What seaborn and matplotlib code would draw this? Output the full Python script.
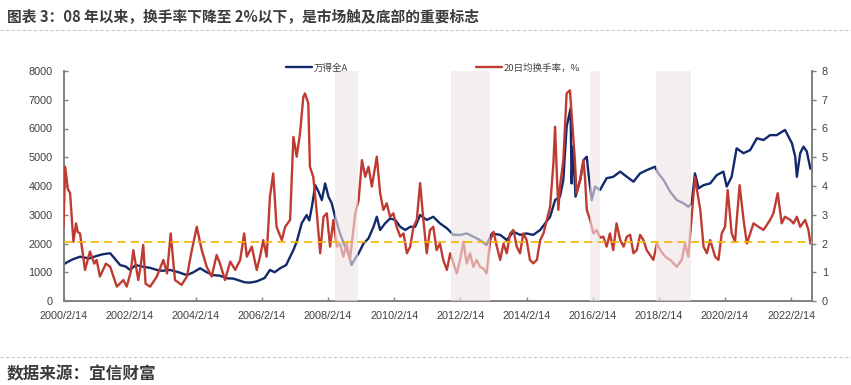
import numpy as np
import pandas as pd
import matplotlib
matplotlib.use("Agg")
import matplotlib.pyplot as plt
from matplotlib.lines import Line2D
import seaborn as sns

# ---------------- data ----------------
title_text = "图表 3：08 年以来，换手率下降至 2%以下，是市场触及底部的重要标志"
source_text = "数据来源：宜信财富"
series_names = ["万得全A", "20日均换手率，%"]

# 万得全A (left axis) — decimal-year dates and index level
wind_t = [2000.12, 2000.17, 2000.4, 2000.62, 2000.9, 2001.1, 2001.32, 2001.53, 2001.65, 2001.83,
          2002.0, 2002.13, 2002.3, 2002.53, 2002.75, 2002.94, 2003.1, 2003.34, 2003.6, 2003.85,
          2004.05, 2004.25, 2004.45, 2004.65, 2004.85, 2005.06, 2005.25, 2005.46, 2005.6, 2005.76,
          2005.95, 2006.06, 2006.2, 2006.36, 2006.5, 2006.67, 2006.85, 2006.97, 2007.08, 2007.17,
          2007.32, 2007.47, 2007.55, 2007.63, 2007.73, 2007.83, 2007.93, 2008.03, 2008.13, 2008.23,
          2008.33, 2008.48, 2008.63, 2008.73, 2008.83, 2008.94, 2009.04, 2009.19, 2009.34, 2009.49,
          2009.59, 2009.69, 2009.84, 2009.99, 2010.15, 2010.3, 2010.45, 2010.6, 2010.75, 2010.9,
          2011.1, 2011.3, 2011.5, 2011.71, 2011.91, 2012.11, 2012.31, 2012.51, 2012.71, 2012.91,
          2013.07, 2013.32, 2013.52, 2013.72, 2013.92, 2014.12, 2014.32, 2014.53, 2014.68, 2014.83,
          2014.98, 2015.13, 2015.23, 2015.33, 2015.45, 2015.48, 2015.52, 2015.6, 2015.74, 2015.84,
          2015.94, 2015.99, 2016.09, 2016.19, 2016.34, 2016.54, 2016.74, 2016.95, 2017.15, 2017.35,
          2017.55, 2017.75, 2018.0, 2018.1, 2018.26, 2018.46, 2018.66, 2018.86, 2019.01, 2019.11,
          2019.21, 2019.32, 2019.47, 2019.67, 2019.87, 2020.07, 2020.17, 2020.32, 2020.47, 2020.68,
          2020.88, 2021.08, 2021.28, 2021.48, 2021.68, 2021.93, 2022.14, 2022.24, 2022.29, 2022.39,
          2022.49, 2022.59, 2022.7]
wind_v = [1250, 1310, 1450, 1540, 1480, 1560, 1630, 1660, 1500, 1250,
          1200, 1080, 1250, 1190, 1150, 1080, 1050, 1080, 1000, 900,
          1000, 1140, 1000, 900, 880, 790, 780, 700, 650, 640,
          680, 730, 800, 1080, 1000, 1140, 1250, 1540, 1800, 2060,
          2700, 2990, 2800, 3280, 4030, 3800, 3510, 4090, 3630, 3400,
          2930, 2350, 1890, 1660, 1250, 1480, 1660, 2000, 2180, 2580,
          2930, 2470, 2700, 2870, 2820, 2580, 2470, 2580, 2580, 2990,
          2820, 2930, 2700, 2530, 2300, 2300, 2350, 2240, 2120, 1950,
          2350, 2300, 2120, 2410, 2300, 2350, 2300, 2470, 2700, 2930,
          3510, 3630, 4210, 6060, 6700, 4090, 5370, 3630, 4210, 4900,
          5020, 4440, 3510, 3980, 3860, 4270, 4320, 4500, 4320, 4150,
          4440, 4550, 4670, 4440, 4210, 3800, 3510, 3400, 3280, 3400,
          4440, 3920, 4030, 4090, 4380, 4500, 3980, 4320, 5310, 5140,
          5250, 5660, 5600, 5770, 5770, 5950, 5490, 5020, 4320, 5140,
          5370, 5200, 4600]

# 20日均换手率 (right axis, %)
turn_t = [2000.12, 2000.17, 2000.25, 2000.32, 2000.42, 2000.5, 2000.55, 2000.62, 2000.77, 2000.92,
          2001.05, 2001.12, 2001.22, 2001.4, 2001.53, 2001.73, 2001.93, 2002.03, 2002.15, 2002.23,
          2002.38, 2002.45, 2002.53, 2002.6, 2002.74, 2002.94, 2003.14, 2003.25, 2003.36, 2003.49,
          2003.69, 2003.85, 2004.0, 2004.15, 2004.3, 2004.45, 2004.6, 2004.75, 2004.85, 2005.0,
          2005.16, 2005.31, 2005.46, 2005.58, 2005.66, 2005.81, 2005.96, 2006.06, 2006.16, 2006.26,
          2006.36, 2006.46, 2006.56, 2006.72, 2006.82, 2006.97, 2007.07, 2007.17, 2007.27, 2007.37,
          2007.42, 2007.52, 2007.57, 2007.67, 2007.77, 2007.88, 2007.98, 2008.08, 2008.18, 2008.28,
          2008.38, 2008.48, 2008.58, 2008.68, 2008.78, 2008.94, 2009.04, 2009.14, 2009.24, 2009.34,
          2009.44, 2009.59, 2009.69, 2009.79, 2009.89, 2009.99, 2010.09, 2010.19, 2010.3, 2010.4,
          2010.5, 2010.6, 2010.7, 2010.8, 2010.9, 2011.0, 2011.1, 2011.2, 2011.3, 2011.4,
          2011.5, 2011.6, 2011.71, 2011.81, 2011.91, 2012.01, 2012.11, 2012.21, 2012.31, 2012.41,
          2012.51, 2012.61, 2012.71, 2012.81, 2012.91, 2013.02, 2013.12, 2013.22, 2013.32, 2013.42,
          2013.52, 2013.62, 2013.72, 2013.82, 2013.92, 2014.02, 2014.12, 2014.22, 2014.32, 2014.43,
          2014.53, 2014.63, 2014.73, 2014.83, 2014.93, 2014.98, 2015.03, 2015.08, 2015.13, 2015.23,
          2015.33, 2015.43, 2015.48, 2015.58, 2015.63, 2015.74, 2015.84, 2015.89, 2015.94, 2016.04,
          2016.14, 2016.24, 2016.34, 2016.44, 2016.54, 2016.64, 2016.74, 2016.84, 2016.95, 2017.05,
          2017.15, 2017.25, 2017.35, 2017.45, 2017.55, 2017.65, 2017.75, 2017.95, 2018.06, 2018.16,
          2018.31, 2018.46, 2018.66, 2018.81, 2018.91, 2019.01, 2019.21, 2019.37, 2019.47, 2019.57,
          2019.67, 2019.82, 2019.92, 2020.02, 2020.12, 2020.2, 2020.32, 2020.42, 2020.56, 2020.68,
          2020.78, 2020.88, 2020.98, 2021.13, 2021.28, 2021.48, 2021.58, 2021.71, 2021.83, 2021.93,
          2022.09, 2022.19, 2022.29, 2022.39, 2022.54, 2022.64, 2022.7]
turn_v = [2.58, 4.67, 3.9, 3.75, 2.06, 2.7, 2.4, 2.35, 1.08, 1.72,
          1.3, 1.43, 0.85, 1.3, 1.19, 0.5, 0.73, 0.5, 1.0, 1.77,
          0.73, 1.2, 1.95, 0.6, 0.5, 0.85, 1.43, 0.96, 2.35, 0.73,
          0.56, 0.85, 1.77, 2.58, 1.77, 1.19, 0.85, 1.6, 1.31, 0.73,
          1.37, 1.08, 1.43, 2.35, 1.54, 1.89, 1.08, 1.54, 2.12, 1.54,
          3.63, 4.44, 2.58, 2.12, 2.58, 2.82, 5.71, 5.02, 5.83, 7.1,
          7.22, 6.88, 4.67, 4.32, 3.17, 1.66, 2.93, 3.05, 1.89, 2.82,
          1.89, 2.0, 1.54, 2.0, 1.43, 3.05, 3.5, 4.9, 4.32, 4.67,
          3.98, 5.02, 3.75, 3.17, 3.4, 2.93, 3.05, 2.58, 2.24, 2.35,
          1.66, 1.89, 2.58, 2.82, 4.1, 2.82, 1.66, 2.47, 2.58, 1.77,
          2.0, 1.43, 1.08, 1.66, 1.31, 0.96, 1.43, 2.06, 1.31, 1.66,
          1.19, 1.43, 1.19, 1.13, 0.96, 2.12, 2.41, 1.89, 1.43, 2.0,
          1.66, 2.35, 2.47, 1.89, 1.66, 2.35, 2.12, 1.43, 1.31, 1.43,
          2.12, 2.35, 2.82, 3.28, 4.79, 6.06, 4.55, 3.17, 3.98, 4.9,
          7.22, 7.33, 6.53, 4.9, 3.75, 4.21, 4.9, 4.21, 3.17, 2.82,
          2.35, 2.47, 2.2, 2.24, 1.89, 2.35, 1.77, 2.7, 2.12, 1.89,
          2.24, 2.3, 1.66, 1.77, 2.3, 2.12, 1.77, 1.43, 2.0, 1.77,
          1.54, 1.43, 1.19, 1.43, 2.0, 1.54, 4.3, 3.17, 1.89, 1.66,
          2.12, 1.54, 1.43, 2.35, 2.58, 3.86, 2.35, 2.06, 4.03, 2.82,
          2.0, 2.35, 2.7, 2.58, 2.47, 2.82, 3.05, 3.75, 2.7, 2.93,
          2.82, 2.7, 2.93, 2.58, 2.82, 2.47, 2.0]

# market-bottom periods (shaded)
bottom_start = ["2008-05-01", "2011-11-01", "2016-01-10", "2018-01-15"]
bottom_end = ["2009-01-10", "2013-01-05", "2016-05-05", "2019-02-01"]
threshold = 2.05          # turnover threshold (%)
left_ticks = [0, 1000, 2000, 3000, 4000, 5000, 6000, 7000, 8000]
right_ticks = [0, 1, 2, 3, 4, 5, 6, 7, 8]
x_tick_dates = ["2000-02-14", "2002-02-14", "2004-02-14", "2006-02-14", "2008-02-14", "2010-02-14",
                "2012-02-14", "2014-02-14", "2016-02-14", "2018-02-14", "2020-02-14", "2022-02-14"]
x_tick_labels = ["2000/2/14", "2002/2/14", "2004/2/14", "2006/2/14", "2008/2/14", "2010/2/14",
                 "2012/2/14", "2014/2/14", "2016/2/14", "2018/2/14", "2020/2/14", "2022/2/14"]


def to_dt(ts):
    out = []
    for t in ts:
        y = int(t)
        out.append(pd.Timestamp(year=y, month=1, day=1) + pd.Timedelta(days=(t - y) * 365.25))
    return out


wind_df = pd.DataFrame({"date": to_dt(wind_t), "value": wind_v})
turn_df = pd.DataFrame({"date": to_dt(turn_t), "value": turn_v})

# ---------------- style ----------------
sns.set_theme(style="white")
plt.rcParams["font.family"] = ["Liberation Sans", "Noto Sans CJK SC", "DejaVu Sans"]
cjk = ["Noto Sans CJK SC", "DejaVu Sans"]

NAVY = "#12296b"
RED = "#bf3b32"
TXT = "#404040"
SPINE = "#808080"

W, H = 851, 385
fig = plt.figure(figsize=(W / 100, H / 100), dpi=100)
ax = fig.add_axes([63.5 / W, 1 - 301 / H, (812 - 63.5) / W, (301 - 71) / H])
ax2 = ax.twinx()

sns.lineplot(data=wind_df, x="date", y="value", ax=ax, color=NAVY, lw=1.7, sort=False)
sns.lineplot(data=turn_df, x="date", y="value", ax=ax2, color=RED, lw=1.7, sort=False)

for s, e in zip(bottom_start, bottom_end):
    ax2.axvspan(pd.Timestamp(s), pd.Timestamp(e), color="#f0e4e4", alpha=0.62, lw=0, zorder=5)
ax2.axhline(threshold, color="#f5b400", lw=1.2, ls=(0, (5, 3)), zorder=6)

xmin, xmax = pd.Timestamp("2000-02-14"), pd.Timestamp("2022-10-01")
ax.set_xlim(xmin, xmax)
ax.set_ylim(0, 8000)
ax2.set_ylim(0, 8)
ax.set_yticks(left_ticks)
ax2.set_yticks(right_ticks)
ax.set_xticks([pd.Timestamp(d) for d in x_tick_dates])
ax.set_xticklabels(x_tick_labels)
ax.set_xlabel("")
ax.set_ylabel("")
ax2.set_ylabel("")

for a in (ax, ax2):
    a.grid(False)
    a.spines["top"].set_visible(False)
    for sp in ("left", "right", "bottom"):
        a.spines[sp].set_color(SPINE)
        a.spines[sp].set_linewidth(1.4)
ax.spines["right"].set_visible(False)
ax2.spines["left"].set_visible(False)
ax2.spines["bottom"].set_visible(False)

ax.tick_params(axis="x", direction="in", length=3, width=1, color=SPINE, labelsize=7.8,
               labelcolor=TXT, pad=7, bottom=True)
ax.tick_params(axis="y", direction="in", length=3, width=1, color=SPINE, labelsize=7.8,
               labelcolor=TXT, pad=8, left=True)
ax2.tick_params(axis="y", direction="out", length=3, width=1, color=SPINE, labelsize=7.8,
                labelcolor=TXT, pad=4, right=True)

handles = [Line2D([], [], color=NAVY, lw=1.7), Line2D([], [], color=RED, lw=1.7)]
leg = fig.legend(handles, series_names, loc="center left",
                 bbox_to_anchor=(286 / W, 1 - 68 / H), bbox_transform=fig.transFigure,
                 ncol=2, frameon=False, borderpad=0, borderaxespad=0,
                 handlelength=2.7, handletextpad=0.2, columnspacing=13.6,
                 prop={"family": cjk, "size": 6.8})
for t in leg.get_texts():
    t.set_color(TXT)

# title, separators, source
fig.text(7 / W, 1 - 16 / H, title_text, ha="left", va="center", fontsize=10.6,
         fontweight="bold", color="#3c3c3c", family=cjk)
fig.add_artist(Line2D([0, 1], [1 - 30 / H, 1 - 30 / H], transform=fig.transFigure,
                      color="#c8c8c8", lw=0.8, ls=(0, (3, 2))))
fig.add_artist(Line2D([0, 1], [1 - 357 / H, 1 - 357 / H], transform=fig.transFigure,
                      color="#c8c8c8", lw=0.8, ls=(0, (3, 2))))
fig.text(7 / W, 1 - 374 / H, source_text, ha="left", va="center", fontsize=12,
         fontweight="bold", color="#3c3c3c", family=cjk)

fig.savefig("out.png", dpi=100)
